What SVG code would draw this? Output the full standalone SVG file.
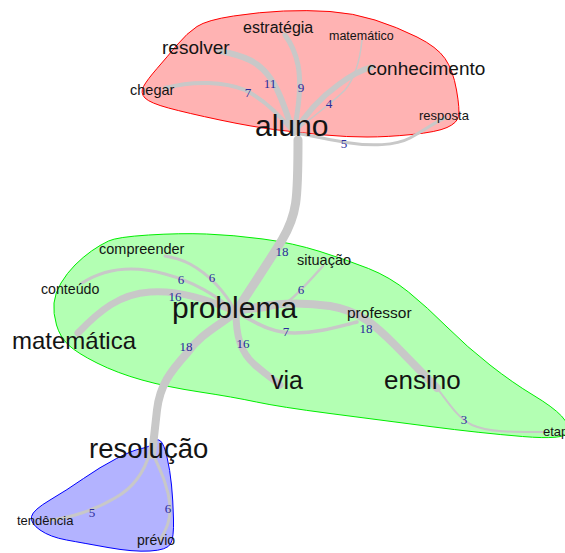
<svg xmlns="http://www.w3.org/2000/svg" width="565" height="553" viewBox="0 0 565 553">
<style>
.e{fill:none;stroke:#c8c8c8;stroke-linecap:round}
.w{font-family:"Liberation Sans",Arial,sans-serif;fill:#141414}
.l{font-family:"Liberation Serif","Times New Roman",serif;font-size:13px;fill:#2b2b9c;text-anchor:middle}
</style>
<rect width="565" height="553" fill="#ffffff"/>
<g id="hulls">
<path id="hull-aluno" fill="#ffb3b3" stroke="#ff0000" stroke-width="1" d="M197,26.5 Q207,20 233.5,16 Q260,12 283.5,11 Q307,10 330,11.5 Q353,13 375,20 Q397,27 417,37 Q437,47 445,58.5 Q453,70 456.5,90 Q460,110 458.5,116.5 Q457,123 447,127.5 Q437,132 412,134.5 Q387,137 367,137 Q347,137 325,135 Q303,133 278,130 Q253,127 220,120 Q187,113 168.5,108 Q150,103 145,98 Q140,93 143.5,86.5 Q147,80 157,68.5 Q167,57 177,45 Q187,33 197,26.5 Z"/>
<path id="hull-problema" fill="#b3ffb3" stroke="#00ee00" stroke-width="1" d="M108.5,241 Q117,237 148.5,235 Q180,233 206.5,234 Q233,235 263,239 Q293,243 320,251.5 Q347,260 368.5,268.5 Q390,277 408.5,292 Q427,307 447,327 Q467,347 490,365 Q513,383 533,395 Q553,407 561.5,416 Q570,425 567.5,432.5 Q565,440 522.5,436.5 Q480,433 430,426.5 Q380,420 330,413.5 Q280,407 256.5,402 Q233,397 200,392 Q167,387 142,380 Q117,373 97,363 Q77,353 68.5,345 Q60,337 56.5,325 Q53,313 54,303 Q55,293 61,283 Q67,273 75,265 Q83,257 91.5,251 Q100,245 108.5,241 Z"/>
<path id="hull-resolucao" fill="#b3b3ff" stroke="#0000ff" stroke-width="1" d="M153.5,442.5 Q157,438 160.5,441 Q164,444 167,457 Q170,470 171.5,485 Q173,500 173.5,519 Q174,538 170.5,544 Q167,550 150,551 Q133,552 108,547.5 Q83,543 66.5,540 Q50,537 40,530 Q30,523 31.5,516.5 Q33,510 50,500 Q67,490 83.5,478.5 Q100,467 116.5,458.5 Q133,450 141.5,448.5 Q150,447 153.5,442.5 Z"/>
</g>
<g id="connectors">
<path class="e" stroke-width="9" d="M298,140 C298,200 297,215 282,240 S248,292 236,312"/>
<path class="e" stroke-width="8" d="M236,312 C215,328 200,335 188,352 C170,372 160,385 157,410 L152,455"/>
<path class="e" stroke-width="7" d="M236,312 C210,300 180,290 150,292 C120,294 100,310 78,333"/>
<path class="e" stroke-width="7" d="M236,312 C236,335 240,352 255,365 S272,378 280,385"/>
<path class="e" stroke-width="8" d="M236,312 C260,305 290,300 330,306 C360,311 375,325 395,345 L437,388"/>
<path class="e" stroke-width="3.5" d="M236,312 C255,322 270,333 295,333 C320,333 340,326 357,322"/>
<path class="e" stroke-width="2.5" d="M236,312 C260,312 280,308 290,300 S312,278 323,266"/>
<path class="e" stroke-width="3" d="M236,312 C225,292 210,275 190,264 C180,259 172,257 165,256"/>
<path class="e" stroke-width="3" d="M236,312 C215,295 195,282 165,274 C140,267 110,265 82,283"/>
<path class="e" stroke-width="2" d="M437,388 C450,405 458,418 472,425 C490,433 520,432 545,432"/>
<path class="e" stroke-width="6" d="M294,133 C285,110 280,90 268,75 C258,62 245,56 220,51"/>
<path class="e" stroke-width="5" d="M294,133 C298,110 302,85 298,65 C295,50 290,42 285,35"/>
<path class="e" stroke-width="4" d="M294,133 C280,115 265,100 245,90 C225,82 195,80 165,88"/>
<path class="e" stroke-width="5.5" d="M294,133 C305,115 320,98 338,85 C350,76 360,70 372,67"/>
<path class="e" stroke-width="1.5" d="M294,133 C310,118 330,105 345,90 C355,78 360,60 362,40"/>
<path class="e" stroke-width="3" d="M294,133 C310,135 330,140 350,143 C370,146 395,146 410,138 C425,130 435,122 445,118"/>
<path class="e" stroke-width="3" d="M150,452 C145,470 135,487 115,498 C95,510 70,518 50,520"/>
<path class="e" stroke-width="3" d="M152,452 C160,470 168,485 170,505 C171,520 166,530 160,540"/>
<text class="l" x="270" y="88">11</text>
<text class="l" x="301" y="92">9</text>
<text class="l" x="248" y="97" fill="#6a5cb0">7</text>
<text class="l" x="329" y="108">4</text>
<text class="l" x="344" y="148">5</text>
<text class="l" x="282" y="256">18</text>
<text class="l" x="301" y="294" fill="#4a72c4">6</text>
<text class="l" x="181" y="284">6</text>
<text class="l" x="212" y="282">6</text>
<text class="l" x="175" y="301">16</text>
<text class="l" x="286" y="336">7</text>
<text class="l" x="366" y="333">18</text>
<text class="l" x="186" y="351">18</text>
<text class="l" x="243" y="348">16</text>
<text class="l" x="464" y="424">3</text>
<text class="l" x="92" y="517">5</text>
<text class="l" x="168" y="513">6</text>
</g>
<g id="n-aluno"><text class="w" x="255" y="136" font-size="30">aluno</text></g>
<g id="n-resolver"><text class="w" x="162" y="54" font-size="19">resolver</text></g>
<g id="n-estrategia"><text class="w" x="243" y="33" font-size="16">estratégia</text></g>
<g id="n-matematico"><text class="w" x="329" y="40" font-size="12.5">matemático</text></g>
<g id="n-conhecimento"><text class="w" x="367" y="75" font-size="19">conhecimento</text></g>
<g id="n-chegar"><text class="w" x="130" y="95" font-size="14.5">chegar</text></g>
<g id="n-resposta"><text class="w" x="419" y="120" font-size="13">resposta</text></g>
<g id="n-problema"><text class="w" x="172" y="318" font-size="30">problema</text></g>
<g id="n-compreender"><text class="w" x="99" y="254" font-size="14.5">compreender</text></g>
<g id="n-conteudo"><text class="w" x="41" y="294" font-size="14.2">conteúdo</text></g>
<g id="n-situacao"><text class="w" x="297" y="265" font-size="14.5">situação</text></g>
<g id="n-professor"><text class="w" x="347" y="318" font-size="15.5">professor</text></g>
<g id="n-matematica"><text class="w" x="12" y="349" font-size="24">matemática</text></g>
<g id="n-via"><text class="w" x="271" y="389" font-size="25">via</text></g>
<g id="n-ensino"><text class="w" x="384" y="389" font-size="26">ensino</text></g>
<g id="n-etapa"><text class="w" x="543" y="436" font-size="13">etapa</text></g>
<g id="n-resolucao"><text class="w" x="89" y="458" font-size="27.5">resolução</text></g>
<g id="n-tendencia"><text class="w" x="17" y="525" font-size="13">tendência</text></g>
<g id="n-previo"><text class="w" x="137" y="545" font-size="14">prévio</text></g>
</svg>
